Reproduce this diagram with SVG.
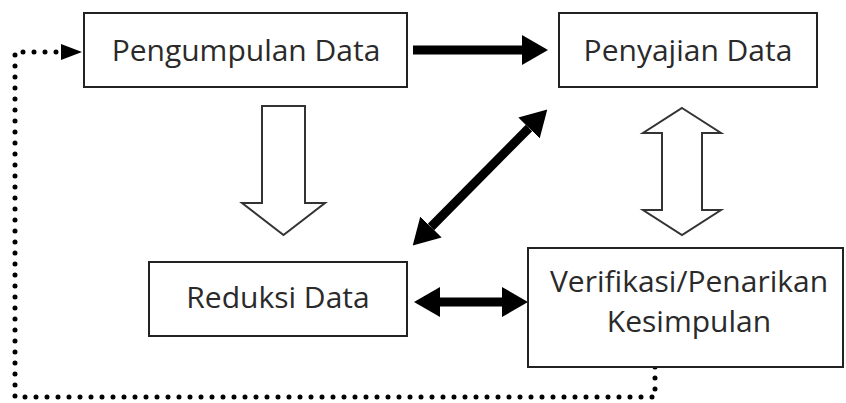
<svg xmlns="http://www.w3.org/2000/svg" width="846" height="403" viewBox="0 0 846 403">
<style>
.box{fill:#fff;stroke:#222;stroke-width:2}
.lbl{font-family:"Open Sans","Liberation Sans",sans-serif;font-size:30px;fill:#2a2a2a;text-anchor:middle}
.thick{stroke:#000;stroke-width:9;fill:none;marker-start:url(#head);marker-end:url(#head)}
.one{stroke:#000;stroke-width:9;fill:none;marker-end:url(#head)}
.hollow{fill:#fff;stroke:#333;stroke-width:2;stroke-linejoin:miter}
.dots{fill:none;stroke:#000;stroke-width:5;stroke-linecap:round;stroke-dasharray:0 11}
</style>
<defs>
<marker id="head" markerUnits="userSpaceOnUse" markerWidth="26" markerHeight="30" refX="0" refY="15" orient="auto-start-reverse" viewBox="0 0 26 30">
<path d="M0,0 L26,15 L0,30 z" fill="#000"/>
</marker>
</defs>
<rect width="846" height="403" fill="#fff"/>
<g id="connectors">
<line class="one" x1="413" y1="50" x2="522" y2="50"/>
<line class="thick" x1="431" y1="227" x2="529" y2="128"/>
<line class="thick" x1="440" y1="302" x2="502" y2="302"/>
<polygon class="hollow" points="262,106 305,106 305,203 325,203 283.5,235 242,203 262,203"/>
<polygon class="hollow" points="682,108 721,133 702,133 702,210 721,210 682,235 643,210 662,210 662,133 643,133"/>
<path class="dots" d="M655,367 V397 H15 V52 H60"/>
<polygon points="61,44 82,52 61,60" fill="#000"/>
</g>
<g id="pengumpulan">
<rect class="box" x="84" y="13" width="323" height="74"/>
<text class="lbl" x="246" y="61">Pengumpulan Data</text>
</g>
<g id="penyajian">
<rect class="box" x="559" y="13" width="258" height="74"/>
<text class="lbl" x="688" y="61">Penyajian Data</text>
</g>
<g id="reduksi">
<rect class="box" x="149" y="262" width="258" height="74"/>
<text class="lbl" x="278" y="308">Reduksi Data</text>
</g>
<g id="verifikasi">
<rect class="box" x="528" y="248" width="315" height="119"/>
<text class="lbl" x="689" y="292">Verifikasi/Penarikan</text>
<text class="lbl" x="689" y="332">Kesimpulan</text>
</g>
</svg>
